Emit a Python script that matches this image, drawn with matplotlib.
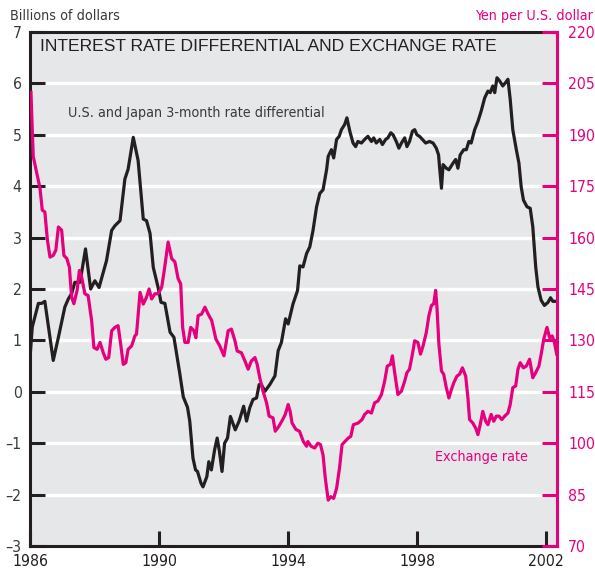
import matplotlib
matplotlib.use('Agg')
import matplotlib.pyplot as plt
from matplotlib import font_manager

# rate differential (left axis)
diff_years = [1986.00, 1986.07, 1986.26, 1986.36, 1986.46, 1986.72, 1986.88, 1987.08, 1987.19, 1987.29,
              1987.39, 1987.55, 1987.72, 1987.88, 1988.01, 1988.14, 1988.37, 1988.53, 1988.63, 1988.79,
              1988.94, 1989.04, 1989.20, 1989.35, 1989.51, 1989.61, 1989.72, 1989.82, 1989.97, 1990.06,
              1990.18, 1990.34, 1990.46, 1990.64, 1990.75, 1990.88, 1990.95, 1991.05, 1991.13, 1991.19,
              1991.30, 1991.36, 1991.48, 1991.54, 1991.62, 1991.72, 1991.80, 1991.87, 1991.95, 1992.03,
              1992.12, 1992.21, 1992.36, 1992.48, 1992.62, 1992.71, 1992.81, 1992.91, 1993.02, 1993.10,
              1993.17, 1993.28, 1993.43, 1993.59, 1993.69, 1993.79, 1993.92, 1994.00, 1994.15, 1994.29,
              1994.36, 1994.46, 1994.57, 1994.67, 1994.77, 1994.88, 1994.98, 1995.08, 1995.19, 1995.24,
              1995.34, 1995.41, 1995.50, 1995.58, 1995.65, 1995.75, 1995.82, 1995.91, 1996.01, 1996.09,
              1996.16, 1996.27, 1996.37, 1996.47, 1996.58, 1996.65, 1996.73, 1996.84, 1996.92, 1997.02,
              1997.09, 1997.18, 1997.25, 1997.35, 1997.43, 1997.51, 1997.61, 1997.68, 1997.76, 1997.85,
              1997.92, 1997.99, 1998.07, 1998.16, 1998.26, 1998.38, 1998.49, 1998.59, 1998.66, 1998.69,
              1998.75, 1998.80, 1998.90, 1998.98, 1999.11, 1999.19, 1999.26, 1999.33, 1999.44, 1999.52,
              1999.60, 1999.67, 1999.78, 1999.88, 1999.98, 2000.09, 2000.19, 2000.26, 2000.34, 2000.40,
              2000.47, 2000.55, 2000.65, 2000.74, 2000.81, 2000.88, 2000.96, 2001.07, 2001.15, 2001.22,
              2001.29, 2001.40, 2001.50, 2001.58, 2001.67, 2001.74, 2001.84, 2001.94, 2002.05, 2002.13,
              2002.20, 2002.31]
diff_vals = [0.65, 1.26, 1.72, 1.72, 1.76, 0.61, 1.06, 1.65, 1.81, 1.91,
             2.13, 2.13, 2.78, 2.00, 2.16, 2.03, 2.55, 3.14, 3.23, 3.33,
             4.14, 4.33, 4.95, 4.50, 3.36, 3.33, 3.08, 2.42, 2.03, 1.74,
             1.72, 1.16, 1.06, 0.36, -0.10, -0.30, -0.57, -1.29, -1.52, -1.55,
             -1.78, -1.85, -1.65, -1.36, -1.52, -1.13, -0.90, -1.16, -1.55, -1.00,
             -0.90, -0.48, -0.74, -0.57, -0.28, -0.57, -0.31, -0.15, -0.12, 0.14,
             0.14, 0.01, 0.14, 0.31, 0.80, 0.96, 1.42, 1.32, 1.71, 1.97,
             2.45, 2.43, 2.69, 2.82, 3.14, 3.60, 3.86, 3.93, 4.32, 4.58,
             4.71, 4.55, 4.91, 4.97, 5.10, 5.20, 5.33, 5.07, 4.84, 4.77,
             4.87, 4.84, 4.91, 4.97, 4.87, 4.94, 4.84, 4.91, 4.81, 4.91,
             4.94, 5.04, 5.00, 4.87, 4.74, 4.84, 4.94, 4.77, 4.87, 5.07,
             5.10, 5.00, 4.97, 4.91, 4.84, 4.87, 4.84, 4.74, 4.61, 4.38,
             3.96, 4.42, 4.35, 4.32, 4.45, 4.52, 4.35, 4.61, 4.71, 4.71,
             4.87, 4.84, 5.10, 5.26, 5.46, 5.72, 5.85, 5.82, 5.95, 5.82,
             6.11, 6.05, 5.95, 6.02, 6.08, 5.69, 5.10, 4.71, 4.45, 3.99,
             3.73, 3.60, 3.57, 3.21, 2.43, 2.04, 1.78, 1.68, 1.74, 1.83,
             1.76, 1.76]

# yen per dollar (right axis)
yen_years = [1986.03, 1986.10, 1986.21, 1986.31, 1986.38, 1986.46, 1986.54, 1986.62, 1986.72, 1986.80,
             1986.88, 1986.98, 1987.05, 1987.14, 1987.22, 1987.29, 1987.36, 1987.46, 1987.53, 1987.60,
             1987.70, 1987.80, 1987.91, 1987.98, 1988.08, 1988.17, 1988.27, 1988.35, 1988.44, 1988.53,
             1988.63, 1988.73, 1988.81, 1988.89, 1988.97, 1989.04, 1989.15, 1989.25, 1989.30, 1989.41,
             1989.51, 1989.61, 1989.69, 1989.77, 1989.87, 1989.97, 1990.08, 1990.16, 1990.28, 1990.39,
             1990.49, 1990.59, 1990.67, 1990.73, 1990.80, 1990.90, 1990.98, 1991.08, 1991.14, 1991.21,
             1991.32, 1991.42, 1991.52, 1991.63, 1991.76, 1991.88, 1992.01, 1992.14, 1992.24, 1992.35,
             1992.42, 1992.55, 1992.66, 1992.76, 1992.86, 1992.97, 1993.04, 1993.12, 1993.22, 1993.33,
             1993.41, 1993.53, 1993.60, 1993.71, 1993.83, 1993.91, 1994.00, 1994.06, 1994.12, 1994.24,
             1994.35, 1994.47, 1994.57, 1994.61, 1994.71, 1994.82, 1994.92, 1995.00, 1995.08, 1995.15,
             1995.24, 1995.32, 1995.41, 1995.50, 1995.59, 1995.67, 1995.76, 1995.86, 1995.94, 1996.02,
             1996.17, 1996.29, 1996.37, 1996.47, 1996.58, 1996.68, 1996.78, 1996.89, 1996.99, 1997.07,
             1997.17, 1997.23, 1997.30, 1997.40, 1997.51, 1997.61, 1997.68, 1997.76, 1997.85, 1997.92,
             1998.02, 1998.10, 1998.18, 1998.28, 1998.36, 1998.44, 1998.51, 1998.57, 1998.61, 1998.67,
             1998.75, 1998.82, 1998.90, 1998.98, 1999.06, 1999.13, 1999.23, 1999.31, 1999.40, 1999.50,
             1999.57, 1999.62, 1999.72, 1999.81, 1999.88, 1999.95, 2000.03, 2000.12, 2000.19, 2000.29,
             2000.37, 2000.45, 2000.53, 2000.62, 2000.71, 2000.81, 2000.88, 2000.96, 2001.05, 2001.12,
             2001.19, 2001.29, 2001.38, 2001.48, 2001.58, 2001.67, 2001.77, 2001.84, 2001.92, 2002.02,
             2002.10, 2002.18, 2002.25, 2002.32]
yen_vals = [202.4, 183.7, 178.8, 174.4, 168.0, 167.5, 159.2, 154.3, 154.8, 156.3,
            163.1, 162.2, 154.8, 153.9, 151.4, 142.6, 140.7, 144.6, 150.4, 148.5,
            143.6, 143.1, 135.8, 127.9, 127.4, 129.4, 126.4, 124.5, 125.0, 132.8,
            133.8, 134.3, 128.9, 123.0, 123.5, 127.4, 128.4, 131.3, 131.8, 144.0,
            140.6, 142.6, 145.0, 142.1, 143.6, 143.6, 145.5, 150.4, 158.7, 153.9,
            152.9, 148.0, 146.5, 133.8, 129.4, 129.4, 133.8, 132.8, 130.8, 137.2,
            137.7, 139.7, 137.7, 135.8, 130.4, 128.4, 125.5, 132.8, 133.3, 129.9,
            126.9, 126.4, 124.0, 121.6, 124.0, 125.0, 123.0, 119.1, 115.2, 111.8,
            107.9, 107.4, 103.5, 104.9, 106.9, 108.4, 111.3, 109.3, 105.9, 104.0,
            103.5, 100.5, 99.1, 100.5, 99.1, 98.6, 100.0, 99.6, 96.6, 89.8,
            83.4, 84.4, 83.9, 86.8, 92.7, 99.6, 100.5, 101.5, 102.0, 105.4,
            105.9, 106.9, 108.4, 109.3, 108.8, 111.8, 112.3, 114.2, 118.1, 122.5,
            123.0, 125.5, 120.6, 114.2, 115.2, 118.1, 120.6, 121.6, 126.0, 129.9,
            129.4, 126.0, 128.4, 132.3, 137.2, 140.2, 140.7, 144.6, 139.7, 128.9,
            121.1, 120.1, 116.2, 113.2, 115.7, 117.6, 119.6, 120.1, 122.0, 119.6,
            113.2, 106.9, 105.9, 104.4, 102.5, 105.4, 109.3, 106.4, 105.4, 108.4,
            106.4, 107.9, 107.9, 106.9, 107.9, 108.8, 111.3, 116.2, 116.7, 121.6,
            123.5, 122.0, 122.5, 124.5, 119.1, 120.6, 122.5, 126.0, 130.4, 133.8,
            130.8, 131.3, 129.4, 126.0]

left_ticks = [-3, -2, -1, 0, 1, 2, 3, 4, 5, 6, 7]
right_ticks = [70, 85, 100, 115, 130, 145, 160, 175, 190, 205, 220]
x_ticks = [1986, 1990, 1994, 1998, 2002]

MAG = '#e6007e'
DARK = '#231f20'
GRAY = '#3a3a3a'

# narrow face for labels; fall back to condensed DejaVu
names = {f.name for f in font_manager.fontManager.ttflist}
if 'Liberation Sans Narrow' in names:
    tick_font = font_manager.FontProperties(family='Liberation Sans Narrow', size=12)
    note_font = font_manager.FontProperties(family='Liberation Sans Narrow', size=11)
else:
    tick_font = font_manager.FontProperties(family='DejaVu Sans', stretch='condensed', size=11.3)
    note_font = font_manager.FontProperties(family='DejaVu Sans', stretch='condensed', size=10.3)

fig = plt.figure(figsize=(5.95, 5.73), dpi=100)
ax = fig.add_axes([30/595, 1 - 546/573, 527/595, 514/573])
ax.set_facecolor('#e6e7e8')
ax.set_xlim(1986, 2002.33)
ax.set_ylim(-3, 7)
for v in left_ticks[1:-1]:
    ax.axhline(v, color='white', lw=2.4, zorder=0.5)

ax.plot(diff_years, diff_vals, color=DARK, lw=2.3, zorder=3)

ax2 = ax.twinx()
ax2.set_ylim(70, 220)
ax2.plot(yen_years, yen_vals, color=MAG, lw=2.3, zorder=2)

ax.set_yticks(left_ticks)
ax.set_yticklabels([str(v).replace('-', '\u2013') for v in left_ticks], fontproperties=tick_font, color=GRAY)
ax.set_xticks(x_ticks)
ax.set_xticklabels([str(v) for v in x_ticks], fontproperties=tick_font, color=DARK)
ax2.set_yticks(right_ticks)
ax2.set_yticklabels([str(v) for v in right_ticks], fontproperties=tick_font, color=MAG)

ax.tick_params(axis='y', direction='in', length=11, width=2.2, color=DARK, pad=6)
ax.tick_params(axis='x', direction='in', length=11, width=2.2, color=DARK, pad=6)
ax2.tick_params(axis='y', direction='in', length=11, width=2.2, color=MAG, pad=8)

for s in ['left', 'top', 'bottom']:
    ax.spines[s].set_color(DARK)
    ax.spines[s].set_linewidth(2.2)
ax.spines['right'].set_visible(False)
for s in ['left', 'top', 'bottom']:
    ax2.spines[s].set_visible(False)
ax2.spines['right'].set_color(MAG)
ax2.spines['right'].set_linewidth(2.2)

ax.text(0.019, 0.971, 'INTEREST RATE DIFFERENTIAL AND EXCHANGE RATE', transform=ax.transAxes,
        family=['Liberation Sans', 'DejaVu Sans'], fontsize=12.6, color=DARK, ha='left', va='center')
ax.text(1987.18, 5.43, 'U.S. and Japan 3-month rate differential', fontproperties=note_font,
        color=GRAY, ha='left', va='center')
ax.text(1998.54, -1.26, 'Exchange rate', fontproperties=note_font, color=MAG, ha='left', va='center')

fig.text(10/595, 1 - 16/573, 'Billions of dollars', fontproperties=note_font, color=GRAY, ha='left', va='center')
fig.text(593/595, 1 - 16/573, 'Yen per U.S. dollar', fontproperties=note_font, color=MAG, ha='right', va='center')

fig.savefig('out.png', dpi=100)
